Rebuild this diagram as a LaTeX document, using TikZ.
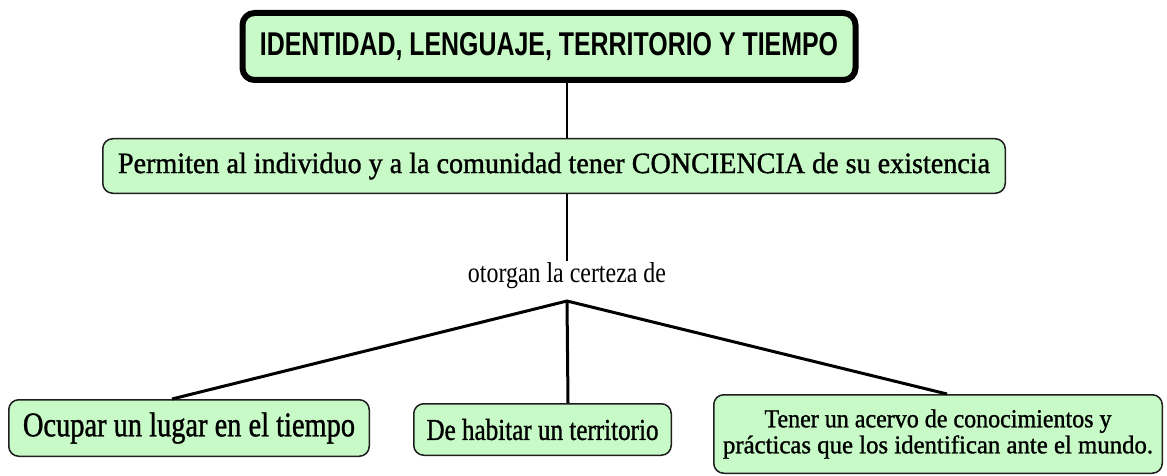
\documentclass[tikz,border=0pt]{standalone}
\usepackage{fontspec}
\setmainfont{Liberation Serif}
\newfontfamily\hdfont{Liberation Sans}
\newfontfamily\boxfont{Liberation Serif}[FakeBold=1.2]
\newfontfamily\labfont{Liberation Serif}
\definecolor{boxgreen}{RGB}{200,250,200}
\definecolor{boxline}{RGB}{30,30,30}
\newcommand{\fitwh}[3]{\resizebox{#1pt}{#2pt}{#3}}
\tikzset{
  topbox/.style={draw=black, line width=6pt, rounded corners=12pt, fill=boxgreen, inner sep=0pt},
  gbox/.style={draw=boxline, line width=1.5pt, rounded corners=10pt, fill=boxgreen, inner sep=0pt, font=\boxfont},
  link/.style={line width=2pt, draw=black},
  thicklink/.style={line width=3pt, draw=black}
}
\begin{document}
\begin{tikzpicture}[x=1pt,y=-1pt]
\useasboundingbox (0,0) rectangle (1167,476);
% nodes
\node[topbox, minimum width=613pt, minimum height=67pt] (top) at (549,46.5)
  {\hdfont\bfseries\resizebox{578pt}{23pt}{IDENTIDAD, LENGUAJE, TERRITORIO Y TIEMPO}};
\node[gbox, minimum width=902.5pt, minimum height=54.5pt] (mid) at (554,166)
  {\fitwh{872}{20.5}{Permiten al individuo y a la comunidad tener CONCIENCIA de su existencia}};
\node[inner sep=2pt, font=\labfont] (lab) at (567,276) {\fitwh{198}{20}{otorgan la certeza de}};
\node[gbox, minimum width=360.5pt, minimum height=56.5pt] (b1) at (189,428)
  {\fitwh{332}{24}{Ocupar un lugar en el tiempo}};
\node[gbox, minimum width=257.5pt, minimum height=51.5pt] (b2) at (542.5,429.5)
  {\fitwh{232}{21}{De habitar un territorio}};
\node[gbox, minimum width=448.5pt, minimum height=78.5pt] (b3) at (938,434)
  {\vbox{\baselineskip=26pt\lineskiplimit=-100pt
     \hbox to 430pt{\hss\fitwh{347}{18}{Tener un acervo de conocimientos y}\hss}
     \hbox to 430pt{\hss\fitwh{430}{18}{prácticas que los identifican ante el mundo.}\hss}}};
% helper coordinates
\coordinate (j) at (567,301);
\coordinate (e1) at (172,0);
\coordinate (e2) at (568,0);
\coordinate (e3) at (947,0);
% connectors
\draw[link] (j |- top.south) -- (j |- mid.north);
\draw[link] (j |- mid.south) -- (j |- lab.north);
\draw[thicklink] (e1 |- b1.north) -- (j) -- (e3 |- b3.north);
\draw[thicklink] (j) -- (e2 |- b2.north);
\end{tikzpicture}
\end{document}
